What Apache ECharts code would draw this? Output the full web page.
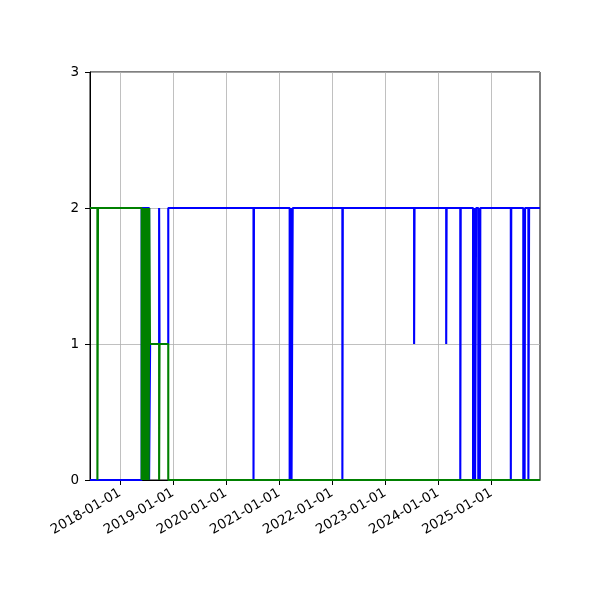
<!DOCTYPE html>
<html>
<head>
<meta charset="utf-8">
<script src="https://cdn.jsdelivr.net/npm/echarts@6/dist/echarts.min.js"></script>
<style>
html,body{margin:0;padding:0;background:#fff;}
#chart{width:600px;height:600px;}
</style>
</head>
<body>
<div id="chart"></div>
<script>
// ---- data ----
var xRange = ['2017-06-08', '2025-12-02'];
var tickLabels = ['2018-01-01','2019-01-01','2020-01-01','2021-01-01','2022-01-01','2023-01-01','2024-01-01','2025-01-01'];
var yTicks = [0, 1, 2, 3];

var greenDates = ['2017-06-08','2017-07-29','2017-08-02',
  '2018-05-30','2018-06-03','2018-06-07','2018-06-11','2018-06-15','2018-06-19','2018-06-23','2018-06-27',
  '2018-07-01','2018-07-05','2018-07-09','2018-07-13','2018-07-17','2018-07-21',
  '2018-07-26','2018-09-27','2018-09-30','2018-11-29','2025-12-02'];
var greenValues = [2,0,2,
  0,2,0,2,0,2,0,2,
  0,2,0,2,0,2,
  1,0,1,0,0];

var blueDates = ['2017-06-08','2018-05-30','2018-07-20','2018-07-27','2018-09-27','2018-09-30','2018-11-29',
  '2020-07-08','2020-07-11',
  '2021-03-14','2021-03-21','2021-03-27','2021-04-04',
  '2022-03-12','2022-03-15',
  '2023-07-19','2023-07-22',
  '2024-02-25','2024-02-28',
  '2024-06-01','2024-06-04',
  '2024-08-28','2024-09-04','2024-09-11','2024-09-18','2024-10-03','2024-10-10','2024-10-14','2024-10-17',
  '2025-05-15','2025-05-18',
  '2025-08-09','2025-08-15','2025-08-18','2025-08-21',
  '2025-09-13','2025-09-18',
  '2025-12-02'];
var blueValues = [0,2,0,1,2,1,2,
  0,2,
  0,2,0,2,
  0,2,
  1,2,
  1,2,
  0,2,
  0,2,0,2,0,2,0,2,
  0,2,
  0,2,0,2,
  0,2,
  2];

function ts(s){ var p = s.split('-'); return Date.UTC(+p[0], +p[1]-1, +p[2]); }
function zip(d, v){ return d.map(function(x, i){ return [ts(x), v[i]]; }); }
var tickValues = tickLabels.map(ts);

var chart = echarts.init(document.getElementById('chart'), null, {renderer: 'canvas'});
var font = 'DejaVu Sans';
chart.setOption({
  animation: false,
  backgroundColor: '#fff',
  grid: {left: 90, right: 60, top: 72, bottom: 120, show: true, borderColor: '#000', borderWidth: 1, backgroundColor: 'transparent'},
  xAxis: {
    type: 'value',
    min: ts(xRange[0]),
    max: ts(xRange[1]),
    axisLine: {show: true, lineStyle: {color: '#000', width: 1}},
    axisTick: {show: true, length: 5, lineStyle: {color: '#000'}, customValues: tickValues},
    axisLabel: {
      customValues: tickValues,
      rotate: 30,
      color: '#000',
      fontFamily: font,
      fontSize: 13.5,
      margin: 12,
      formatter: function(v){ var i = tickValues.indexOf(v); return i >= 0 ? tickLabels[i] : ''; }
    },
    splitLine: {show: true, lineStyle: {color: '#b0b0b0', width: 0.8}}
  },
  yAxis: {
    type: 'value',
    min: yTicks[0],
    max: yTicks[yTicks.length - 1],
    interval: 1,
    axisLine: {show: true, lineStyle: {color: '#000', width: 1}},
    axisTick: {show: true, length: 5, lineStyle: {color: '#000'}},
    axisLabel: {color: '#000', fontFamily: font, fontSize: 13.5, margin: 11},
    splitLine: {show: true, lineStyle: {color: '#b0b0b0', width: 0.8}}
  },
  series: [
    {type: 'line', step: 'end', data: zip(blueDates, blueValues), showSymbol: false, symbol: 'none',
     lineStyle: {color: '#0000ff', width: 2.1}, itemStyle: {color: '#0000ff'}},
    {type: 'line', step: 'end', data: zip(greenDates, greenValues), showSymbol: false, symbol: 'none',
     lineStyle: {color: '#008000', width: 2.1}, itemStyle: {color: '#008000'}}
  ]
});
</script>
</body>
</html>
